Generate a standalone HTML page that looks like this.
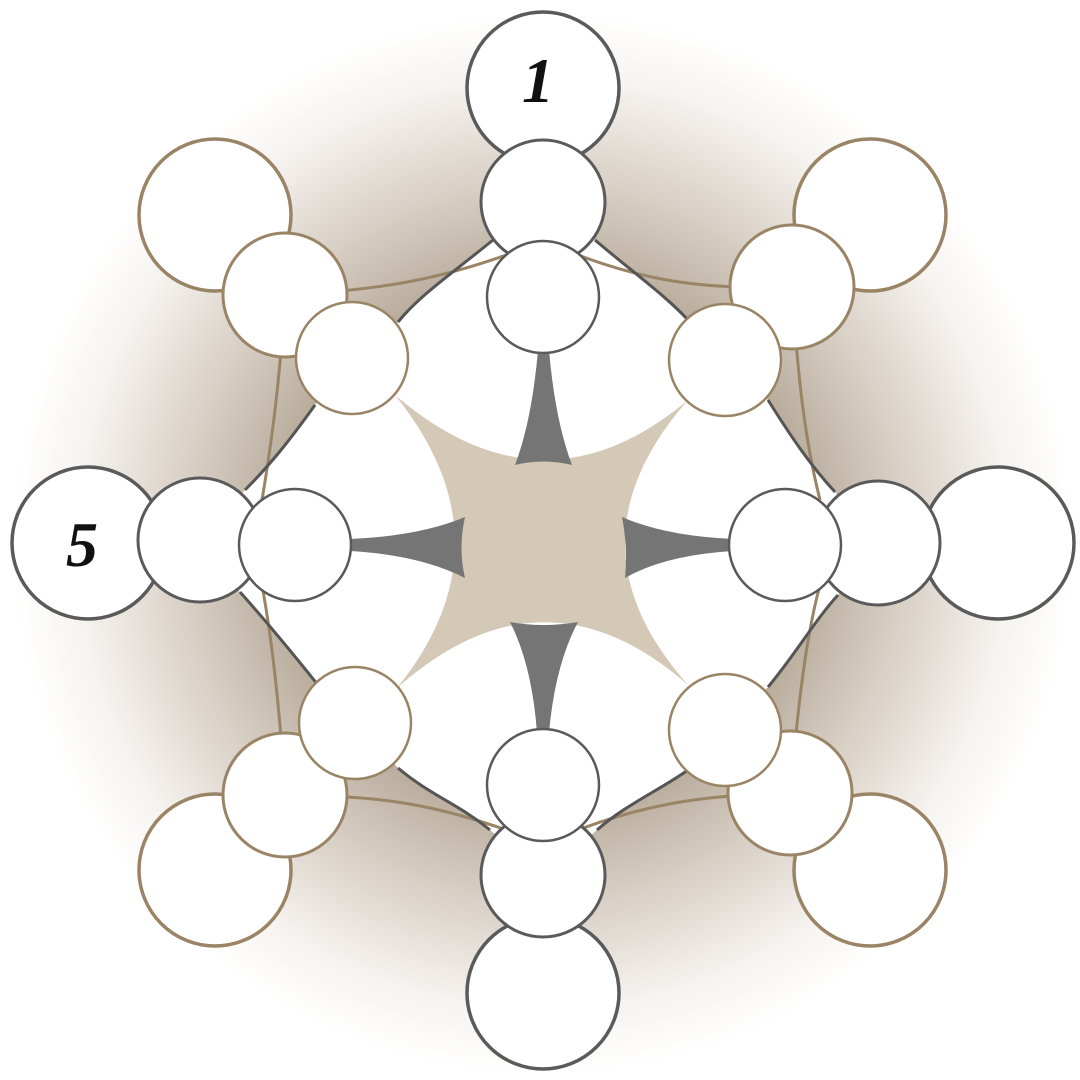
<!DOCTYPE html>
<html><head><meta charset="utf-8"><style>
html,body{margin:0;padding:0;background:#fff;}
svg{display:block;}
</style></head><body>
<svg width="1080" height="1080" viewBox="0 0 1080 1080" xmlns="http://www.w3.org/2000/svg">
<defs>
<radialGradient id="bg" cx="543" cy="543" r="530" gradientUnits="userSpaceOnUse">
<stop offset="0" stop-color="#a99a87"/>
<stop offset="0.45" stop-color="#b0a291"/>
<stop offset="0.68" stop-color="#d8cfc5"/>
<stop offset="0.88" stop-color="#f6f3f0"/>
<stop offset="1" stop-color="#ffffff"/>
</radialGradient>
</defs>
<rect width="1080" height="1080" fill="#fff"/>
<circle cx="543" cy="543" r="530" fill="url(#bg)"/>
<path d="M543,200 L493,240 C450,275 420,295 398,322 L352,358 L315,405 C290,440 270,465 245,490 L200,540 L240,592 C265,620 290,650 318,685 L355,723 L398,768 C430,795 460,805 490,830 L543,875 L597,830 C625,805 660,790 688,770 L725,730 L768,687 C795,655 815,620 838,595 L878,543 L835,492 C810,465 790,435 768,400 L725,360 L688,320 C665,295 630,270 595,240 Z" fill="#fff"/>
<g fill="none" stroke="#9a8466" stroke-width="3">
<path d="M285,295 C380,290 440,280 520,250"/>
<path d="M285,295 C280,380 272,440 262,500"/>
<path d="M792,287 C700,290 640,280 565,250"/>
<path d="M792,287 C798,380 805,440 820,500"/>
<path d="M285,795 C380,795 440,805 520,835"/>
<path d="M285,795 C280,710 272,640 262,585"/>
<path d="M790,793 C700,795 640,805 565,835"/>
<path d="M790,793 C798,710 805,640 820,585"/>
</g>
<g fill="none" stroke="#555" stroke-width="3">
<path d="M493,240 C450,275 420,295 398,322"/>
<path d="M595,240 C630,270 665,295 688,320"/>
<path d="M315,405 C290,440 270,465 245,490"/>
<path d="M240,592 C265,620 290,650 318,685"/>
<path d="M398,768 C430,795 460,805 490,830"/>
<path d="M597,830 C625,805 660,790 688,770"/>
<path d="M768,687 C795,655 815,620 838,595"/>
<path d="M835,492 C810,465 790,435 768,400"/>
</g>
<path d="M395,395 Q543,522 688,400 Q562,543 688,685 Q543,558 397,688 Q514,543 395,395 Z" fill="#d4c8b6"/>
<g fill="#757575">
<path d="M538,350 Q532,420 515,465 Q543,458 572,465 Q555,420 549,350 Z"/>
<path d="M350,539 Q420,536 465,517 Q458,548 465,578 Q420,555 350,551 Z"/>
<path d="M733,539 Q665,536 622,517 Q628,548 625,578 Q665,555 733,551 Z"/>
<path d="M537,733 Q532,665 510,622 Q543,628 578,622 Q555,665 549,733 Z"/>
</g>
<g fill="#fff" stroke-width="3.5">
<circle cx="543" cy="88" r="76" stroke="#5a5a5a"/>
<circle cx="88" cy="543" r="76" stroke="#5a5a5a"/>
<circle cx="998" cy="543" r="76" stroke="#5a5a5a"/>
<circle cx="543" cy="993" r="76" stroke="#5a5a5a"/>
<circle cx="215" cy="215" r="76" stroke="#9a8466"/>
<circle cx="870" cy="215" r="76" stroke="#9a8466"/>
<circle cx="215" cy="870" r="76" stroke="#9a8466"/>
<circle cx="870" cy="870" r="76" stroke="#9a8466"/>
</g>
<g fill="#fff" stroke-width="3">
<circle cx="543" cy="202" r="62" stroke="#5a5a5a"/>
<circle cx="200" cy="540" r="62" stroke="#5a5a5a"/>
<circle cx="878" cy="543" r="62" stroke="#5a5a5a"/>
<circle cx="543" cy="875" r="62" stroke="#5a5a5a"/>
<circle cx="285" cy="295" r="62" stroke="#9a8466"/>
<circle cx="792" cy="287" r="62" stroke="#9a8466"/>
<circle cx="285" cy="795" r="62" stroke="#9a8466"/>
<circle cx="790" cy="793" r="62" stroke="#9a8466"/>
</g>
<g fill="#fff" stroke-width="2.5">
<circle cx="543" cy="297" r="56" stroke="#5a5a5a"/>
<circle cx="295" cy="545" r="56" stroke="#5a5a5a"/>
<circle cx="785" cy="545" r="56" stroke="#5a5a5a"/>
<circle cx="543" cy="785" r="56" stroke="#5a5a5a"/>
<circle cx="352" cy="358" r="56" stroke="#9a8466"/>
<circle cx="725" cy="360" r="56" stroke="#9a8466"/>
<circle cx="355" cy="723" r="56" stroke="#9a8466"/>
<circle cx="725" cy="730" r="56" stroke="#9a8466"/>
</g>
<g font-family="Liberation Serif, serif" font-style="italic" font-weight="bold" font-size="64" fill="#111" text-anchor="middle">
<text x="538" y="102">1</text>
<text x="82" y="566">5</text>
</g>
</svg>
</body></html>
